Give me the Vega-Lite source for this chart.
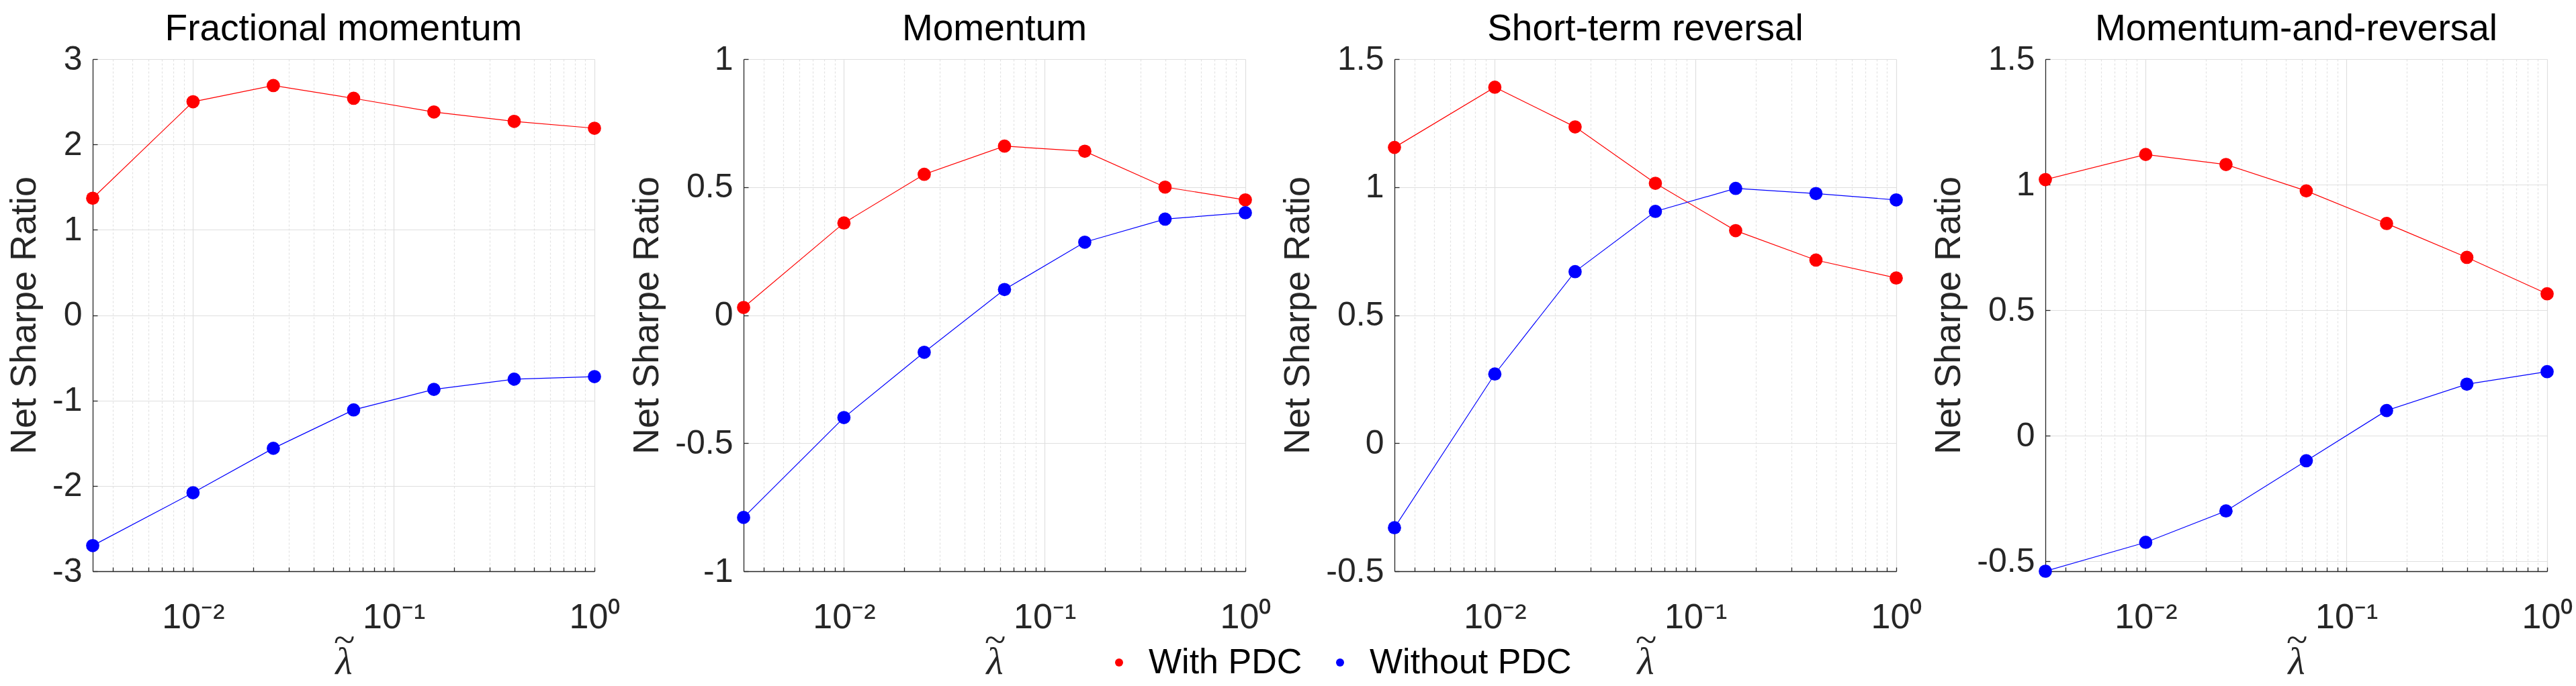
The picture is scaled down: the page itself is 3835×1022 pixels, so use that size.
{
  "$schema": "https://vega.github.io/schema/vega-lite/v6.json",
  "background": "white",
  "padding": {"left": 9, "top": 16, "right": 0, "bottom": 0},
  "bounds": "flush",
  "spacing": 222,
  "data": {"values": [
    {"p": "Fractional momentum", "s": "With PDC", "x": 0.0031623, "y": 1.37},
    {"p": "Fractional momentum", "s": "With PDC", "x": 0.01, "y": 2.50},
    {"p": "Fractional momentum", "s": "With PDC", "x": 0.025119, "y": 2.69},
    {"p": "Fractional momentum", "s": "With PDC", "x": 0.063096, "y": 2.54},
    {"p": "Fractional momentum", "s": "With PDC", "x": 0.15849, "y": 2.38},
    {"p": "Fractional momentum", "s": "With PDC", "x": 0.39811, "y": 2.27},
    {"p": "Fractional momentum", "s": "With PDC", "x": 1, "y": 2.19},
    {"p": "Fractional momentum", "s": "Without PDC", "x": 0.0031623, "y": -2.70},
    {"p": "Fractional momentum", "s": "Without PDC", "x": 0.01, "y": -2.08},
    {"p": "Fractional momentum", "s": "Without PDC", "x": 0.025119, "y": -1.56},
    {"p": "Fractional momentum", "s": "Without PDC", "x": 0.063096, "y": -1.11},
    {"p": "Fractional momentum", "s": "Without PDC", "x": 0.15849, "y": -0.87},
    {"p": "Fractional momentum", "s": "Without PDC", "x": 0.39811, "y": -0.75},
    {"p": "Fractional momentum", "s": "Without PDC", "x": 1, "y": -0.72},
    {"p": "Momentum", "s": "With PDC", "x": 0.0031623, "y": 0.03},
    {"p": "Momentum", "s": "With PDC", "x": 0.01, "y": 0.36},
    {"p": "Momentum", "s": "With PDC", "x": 0.025119, "y": 0.55},
    {"p": "Momentum", "s": "With PDC", "x": 0.063096, "y": 0.66},
    {"p": "Momentum", "s": "With PDC", "x": 0.15849, "y": 0.64},
    {"p": "Momentum", "s": "With PDC", "x": 0.39811, "y": 0.50},
    {"p": "Momentum", "s": "With PDC", "x": 1, "y": 0.45},
    {"p": "Momentum", "s": "Without PDC", "x": 0.0031623, "y": -0.79},
    {"p": "Momentum", "s": "Without PDC", "x": 0.01, "y": -0.40},
    {"p": "Momentum", "s": "Without PDC", "x": 0.025119, "y": -0.145},
    {"p": "Momentum", "s": "Without PDC", "x": 0.063096, "y": 0.10},
    {"p": "Momentum", "s": "Without PDC", "x": 0.15849, "y": 0.285},
    {"p": "Momentum", "s": "Without PDC", "x": 0.39811, "y": 0.375},
    {"p": "Momentum", "s": "Without PDC", "x": 1, "y": 0.40},
    {"p": "Short-term reversal", "s": "With PDC", "x": 0.0031623, "y": 1.155},
    {"p": "Short-term reversal", "s": "With PDC", "x": 0.01, "y": 1.39},
    {"p": "Short-term reversal", "s": "With PDC", "x": 0.025119, "y": 1.235},
    {"p": "Short-term reversal", "s": "With PDC", "x": 0.063096, "y": 1.015},
    {"p": "Short-term reversal", "s": "With PDC", "x": 0.15849, "y": 0.83},
    {"p": "Short-term reversal", "s": "With PDC", "x": 0.39811, "y": 0.715},
    {"p": "Short-term reversal", "s": "With PDC", "x": 1, "y": 0.645},
    {"p": "Short-term reversal", "s": "Without PDC", "x": 0.0031623, "y": -0.33},
    {"p": "Short-term reversal", "s": "Without PDC", "x": 0.01, "y": 0.27},
    {"p": "Short-term reversal", "s": "Without PDC", "x": 0.025119, "y": 0.67},
    {"p": "Short-term reversal", "s": "Without PDC", "x": 0.063096, "y": 0.905},
    {"p": "Short-term reversal", "s": "Without PDC", "x": 0.15849, "y": 0.995},
    {"p": "Short-term reversal", "s": "Without PDC", "x": 0.39811, "y": 0.975},
    {"p": "Short-term reversal", "s": "Without PDC", "x": 1, "y": 0.95},
    {"p": "Momentum-and-reversal", "s": "With PDC", "x": 0.0031623, "y": 1.02},
    {"p": "Momentum-and-reversal", "s": "With PDC", "x": 0.01, "y": 1.12},
    {"p": "Momentum-and-reversal", "s": "With PDC", "x": 0.025119, "y": 1.08},
    {"p": "Momentum-and-reversal", "s": "With PDC", "x": 0.063096, "y": 0.975},
    {"p": "Momentum-and-reversal", "s": "With PDC", "x": 0.15849, "y": 0.845},
    {"p": "Momentum-and-reversal", "s": "With PDC", "x": 0.39811, "y": 0.71},
    {"p": "Momentum-and-reversal", "s": "With PDC", "x": 1, "y": 0.565},
    {"p": "Momentum-and-reversal", "s": "Without PDC", "x": 0.0031623, "y": -0.54},
    {"p": "Momentum-and-reversal", "s": "Without PDC", "x": 0.01, "y": -0.425},
    {"p": "Momentum-and-reversal", "s": "Without PDC", "x": 0.025119, "y": -0.30},
    {"p": "Momentum-and-reversal", "s": "Without PDC", "x": 0.063096, "y": -0.10},
    {"p": "Momentum-and-reversal", "s": "Without PDC", "x": 0.15849, "y": 0.10},
    {"p": "Momentum-and-reversal", "s": "Without PDC", "x": 0.39811, "y": 0.205},
    {"p": "Momentum-and-reversal", "s": "Without PDC", "x": 1, "y": 0.255}
  ]},
  "resolve": {"scale": {"x": "independent", "y": "independent", "color": "independent", "stroke": "independent"}, "legend": {"color": "independent"}},
  "hconcat": [
    {
      "title": "Fractional momentum",
      "width": 747, "height": 763,
      "transform": [{"filter": "datum.p == 'Fractional momentum'"}],
      "encoding": {
        "x": {"field": "x", "type": "quantitative", "scale": {"type": "log", "domain": [0.0031623, 1], "nice": false}, "axis": {"title": ["~", "λ"]}},
        "y": {"field": "y", "type": "quantitative", "scale": {"domain": [-3, 3], "nice": false, "zero": false}, "axis": {"title": "Net Sharpe Ratio", "values": [-3, -2, -1, 0, 1, 2, 3]}}
      },
      "layer": [
        {"mark": {"type": "line", "strokeWidth": 1.2}, "encoding": {"stroke": {"field": "s", "type": "nominal", "scale": {"domain": ["Without PDC", "With PDC"], "range": ["#0000ff", "#ff0000"]}, "legend": null}}},
        {"mark": {"type": "point", "filled": true, "size": 390, "opacity": 1}, "encoding": {"color": {"field": "s", "type": "nominal", "scale": {"domain": ["With PDC", "Without PDC"], "range": ["#ff0000", "#0000ff"]}, "legend": {"title": null, "orient": "none", "legendX": 1502, "legendY": 873, "direction": "horizontal", "labelLimit": 500}}}}
      ]
    },
    {
      "title": "Momentum",
      "width": 747, "height": 763,
      "transform": [{"filter": "datum.p == 'Momentum'"}],
      "encoding": {
        "x": {"field": "x", "type": "quantitative", "scale": {"type": "log", "domain": [0.0031623, 1], "nice": false}, "axis": {"title": ["~", "λ"]}},
        "y": {"field": "y", "type": "quantitative", "scale": {"domain": [-1, 1], "nice": false, "zero": false}, "axis": {"title": "Net Sharpe Ratio", "values": [-1, -0.5, 0, 0.5, 1]}}
      },
      "layer": [
        {"mark": {"type": "line", "strokeWidth": 1.2}, "encoding": {"stroke": {"field": "s", "type": "nominal", "scale": {"domain": ["Without PDC", "With PDC"], "range": ["#0000ff", "#ff0000"]}, "legend": null}}},
        {"mark": {"type": "point", "filled": true, "size": 390, "opacity": 1}, "encoding": {"color": {"field": "s", "type": "nominal", "scale": {"domain": ["With PDC", "Without PDC"], "range": ["#ff0000", "#0000ff"]}, "legend": null}}}
      ]
    },
    {
      "title": "Short-term reversal",
      "width": 747, "height": 763,
      "transform": [{"filter": "datum.p == 'Short-term reversal'"}],
      "encoding": {
        "x": {"field": "x", "type": "quantitative", "scale": {"type": "log", "domain": [0.0031623, 1], "nice": false}, "axis": {"title": ["~", "λ"]}},
        "y": {"field": "y", "type": "quantitative", "scale": {"domain": [-0.5, 1.5], "nice": false, "zero": false}, "axis": {"title": "Net Sharpe Ratio", "values": [-0.5, 0, 0.5, 1, 1.5]}}
      },
      "layer": [
        {"mark": {"type": "line", "strokeWidth": 1.2}, "encoding": {"stroke": {"field": "s", "type": "nominal", "scale": {"domain": ["Without PDC", "With PDC"], "range": ["#0000ff", "#ff0000"]}, "legend": null}}},
        {"mark": {"type": "point", "filled": true, "size": 390, "opacity": 1}, "encoding": {"color": {"field": "s", "type": "nominal", "scale": {"domain": ["With PDC", "Without PDC"], "range": ["#ff0000", "#0000ff"]}, "legend": null}}}
      ]
    },
    {
      "title": "Momentum-and-reversal",
      "width": 747, "height": 763,
      "transform": [{"filter": "datum.p == 'Momentum-and-reversal'"}],
      "encoding": {
        "x": {"field": "x", "type": "quantitative", "scale": {"type": "log", "domain": [0.0031623, 1], "nice": false}, "axis": {"title": ["~", "λ"]}},
        "y": {"field": "y", "type": "quantitative", "scale": {"domain": [-0.54, 1.5], "nice": false, "zero": false}, "axis": {"title": "Net Sharpe Ratio", "values": [-0.5, 0, 0.5, 1, 1.5]}}
      },
      "layer": [
        {"mark": {"type": "line", "strokeWidth": 1.2}, "encoding": {"stroke": {"field": "s", "type": "nominal", "scale": {"domain": ["Without PDC", "With PDC"], "range": ["#0000ff", "#ff0000"]}, "legend": null}}},
        {"mark": {"type": "point", "filled": true, "size": 390, "opacity": 1}, "encoding": {"color": {"field": "s", "type": "nominal", "scale": {"domain": ["With PDC", "Without PDC"], "range": ["#ff0000", "#0000ff"]}, "legend": null}}}
      ]
    }
  ],
  "config": {
    "view": {"stroke": null},
    "title": {"font": "Liberation Sans", "fontSize": 55, "fontWeight": "normal", "color": "#000000", "offset": -9, "baseline": "alphabetic", "anchor": "middle"},
    "axis": {
      "domainColor": "#262626", "domainWidth": 1.3,
      "tickColor": "#262626", "tickWidth": 1.3,
      "labelColor": "#262626", "labelFont": "Liberation Sans",
      "titleColor": "#262626", "titleFontWeight": "normal",
      "labelFlush": false, "labelOverlap": false, "labelBound": false,
      "grid": true, "gridColor": "#dfdfdf", "gridWidth": 1.2
    },
    "axisY": {
      "titleFont": "Liberation Sans", "titleFontSize": 54, "titlePadding": 14,
      "labelFontSize": 50, "tickSize": -7, "labelPadding": 23,
      "labelExpr": "toString(datum.value)"
    },
    "axisX": {
      "titleFont": "Liberation Serif", "titleFontStyle": "italic", "titleFontSize": 58,
      "titleBaseline": "alphabetic", "titleY": 120, "titleLineHeight": 32,
      "labelFontSize": 52, "labelBaseline": "alphabetic", "tickSize": -6, "labelPadding": 90,
      "values": [0.004, 0.005, 0.006, 0.007, 0.008, 0.009, 0.01, 0.02, 0.03, 0.04, 0.05, 0.06, 0.07, 0.08, 0.09, 0.1, 0.2, 0.3, 0.4, 0.5, 0.6, 0.7, 0.8, 0.9, 1],
      "labelExpr": "datum.value == 0.01 ? '10⁻²' : datum.value == 0.1 ? '10⁻¹' : datum.value == 1 ? '10⁰' : ''",
      "gridDash": {"condition": {"test": "datum.value == 0.01 || datum.value == 0.1 || datum.value == 1", "value": []}, "value": [3, 3]},
      "gridColor": {"condition": {"test": "datum.value == 0.01 || datum.value == 0.1 || datum.value == 1", "value": "#dfdfdf"}, "value": "#e2e2e2"}
    },
    "legend": {
      "padding": 0, "symbolType": "circle", "symbolSize": 144, "symbolStrokeWidth": 0,
      "labelFont": "Liberation Sans", "labelFontSize": 52, "labelColor": "#000000",
      "labelOffset": 18, "columnPadding": 30, "symbolOffset": 0, "labelLimit": 500
    }
  }
}
